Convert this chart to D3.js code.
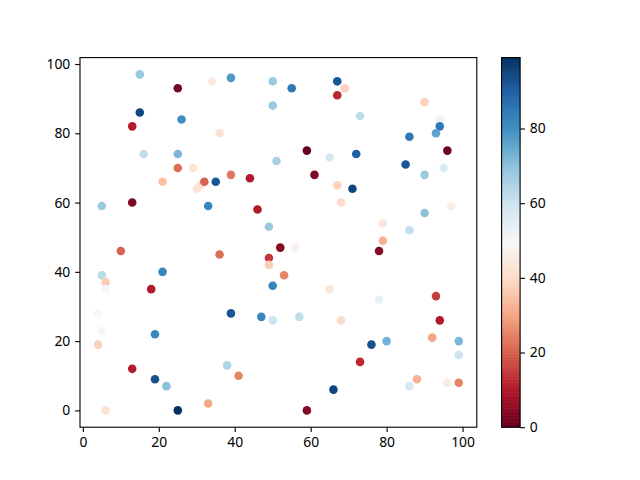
<!DOCTYPE html>
<html><head><meta charset="utf-8">
<script src="https://cdn.jsdelivr.net/npm/d3@7"></script>
<style>body{margin:0;background:#fff}svg{display:block}text{font-family:"Noto Sans",sans-serif;font-size:13.9px;fill:#000}</style>
</head><body><svg id="c" width="640" height="480"></svg>
<script>
const xs = [15,25,34,39,50,50,15,26,13,36,16,25,51,25,29,39,44,21,30,31,32,35,55,67,69,67,90,73,94,94,93,86,59,65,72,96,85,90,95,61,67,71,68,97,90,79,86,79,78,52,56,53,50,65,78,93,5,13,33,46,49,10,36,49,49,21,5,6,6,18,4,5,4,19,39,47,50,13,19,22,38,41,6,25,33,57,68,94,76,80,92,99,99,73,66,59,88,86,96,99];
const ys = [97,93,95,96,95,88,86,84,82,80,74,74,72,70,70,68,67,66,64,65,66,66,93,95,93,91,89,85,84,82,80,79,75,73,74,75,71,68,70,68,65,64,60,59,57,54,52,49,46,47,47,39,36,35,32,33,59,60,59,58,53,46,45,44,42,40,39,37,35,35,28,23,19,22,28,27,26,12,9,7,13,10,0,0,2,27,26,26,19,20,21,20,16,14,6,0,9,7,8,8];
const cs = [68,2,45,78,68,68,95,80,10,42,62,72,66,22,43,23,10,35,43,42,20,92,85,92,38,12,38,62,52,85,76,85,0,58,90,1,92,68,57,3,38,95,40,46,70,44,62,32,4,4,47,25,82,44,54,15,68,3,82,10,68,20,22,14,37,82,63,37,50,10,50,49,38,82,92,82,60,10,93,70,65,25,42,99,30,62,40,10,93,73,30,72,60,12,95,4,32,58,45,25];
const xTicks = [0,20,40,60,80,100];
const yTicks = [0,20,40,60,80,100];
const cTicks = [0,20,40,60,80];
const rdbu = ["#67001f","#b2182b","#d6604d","#f4a582","#fddbc7","#f7f7f7","#d1e5f0","#92c5de","#4393c3","#2166ac","#053061"];

const svg = d3.select("#c");
const L=80, R=476.8, T=57.6, B=427.2;
function padded(arr){const mn=d3.min(arr),mx=d3.max(arr),r=mx-mn;return [mn-0.05*r,mx+0.05*r];}
const x = d3.scaleLinear().domain(padded(xs)).range([L,R]);
const y = d3.scaleLinear().domain(padded(ys)).range([B,T]);
const cmin=d3.min(cs), cmax=d3.max(cs);
const cmap = d3.scaleLinear().domain(d3.range(11).map(i=>i/10)).range(rdbu).interpolate(d3.interpolateRgb).clamp(true);
const col = v => cmap((v-cmin)/(cmax-cmin));

const data = xs.map((v,i)=>({x:v,y:ys[i],c:cs[i]}));
svg.append("g").selectAll("circle").data(data).join("circle")
  .attr("cx",d=>x(d.x)).attr("cy",d=>y(d.y)).attr("r",4.3).attr("fill",d=>col(d.c));

const FONT="Noto Sans";
const xa = svg.append("g").attr("transform",`translate(0,${B})`).call(d3.axisBottom(x).tickValues(xTicks).tickSize(4.86).tickPadding(4.86));
const ya = svg.append("g").attr("transform",`translate(${L},0)`).call(d3.axisLeft(y).tickValues(yTicks).tickSize(4.86).tickPadding(4.86));
[xa,ya].forEach(a=>{a.select(".domain").remove();a.selectAll("line").attr("stroke","#000").attr("stroke-width",1.11);a.selectAll("text").attr("font-family",FONT).attr("font-size",13.9);});
svg.append("rect").attr("x",L).attr("y",T).attr("width",R-L).attr("height",B-T).attr("fill","none").attr("stroke","#000").attr("stroke-width",1.11);

// colorbar
const cbL=501.6, cbR=520.1;
const cy = d3.scaleLinear().domain([cmin,cmax]).range([B,T]);
const N=256, steps=d3.range(N);
svg.append("g").selectAll("rect").data(steps).join("rect")
  .attr("x",cbL).attr("width",cbR-cbL)
  .attr("y",i=>cy(cmin+(i+1)*(cmax-cmin)/N)-0.3)
  .attr("height",i=>cy(cmin+i*(cmax-cmin)/N)-cy(cmin+(i+1)*(cmax-cmin)/N)+0.6)
  .attr("fill",i=>cmap((i+0.5)/N));
svg.append("rect").attr("x",cbL).attr("y",T).attr("width",cbR-cbL).attr("height",B-T).attr("fill","none").attr("stroke","#000").attr("stroke-width",1.11);
const ca = svg.append("g").attr("transform",`translate(${cbR},0)`).call(d3.axisRight(cy).tickValues(cTicks).tickSize(4.86).tickPadding(4.86));
ca.select(".domain").remove();ca.selectAll("line").attr("stroke","#000").attr("stroke-width",1.11);ca.selectAll("text").attr("font-family",FONT).attr("font-size",13.9);
</script></body></html>
